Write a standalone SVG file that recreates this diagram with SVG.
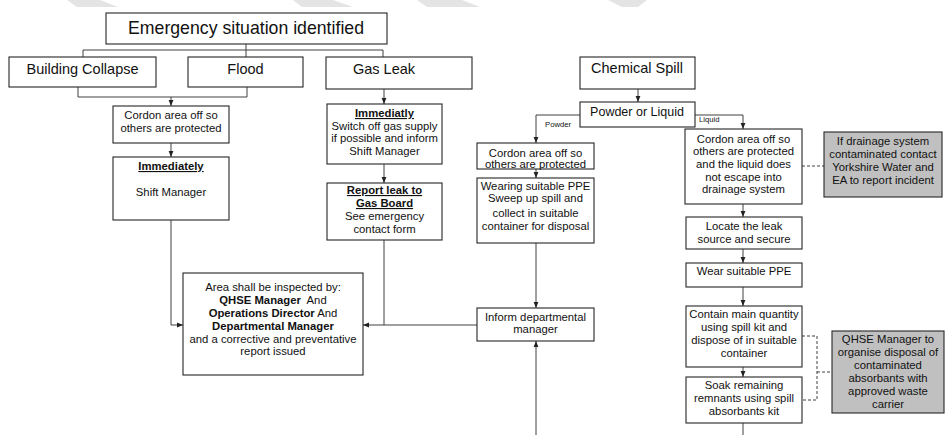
<svg xmlns="http://www.w3.org/2000/svg" width="945" height="435" viewBox="0 0 945 435">
<style>
.bx{fill:#fff;stroke:#262626;stroke-width:1.1}
.gb{fill:#c0c0c0;stroke:#262626;stroke-width:1.1}
.t{font-family:"Liberation Sans",Arial,sans-serif;font-size:11.3px;fill:#111;text-anchor:middle}
.big{font-size:14.5px}
.ttl{font-size:17.7px}
.sm{font-size:7.7px;text-anchor:start}
.b{font-weight:bold}
.u{text-decoration:underline}
.c{fill:none;stroke:#404040;stroke-width:1}
.a{fill:none;stroke:#404040;stroke-width:1;marker-end:url(#ah)}
.d{fill:none;stroke:#404040;stroke-width:1;stroke-dasharray:3,2}
.wm{fill:#e4e4e4}
</style>
<defs>
<marker id="ah" viewBox="0 0 6 6" refX="6" refY="3" markerWidth="6" markerHeight="6" markerUnits="userSpaceOnUse" orient="auto">
<path d="M0,0.6 L6,3 L0,5.4 Z" fill="#222"/>
</marker>
</defs>
<rect width="945" height="435" fill="#fff"/>
<g id="watermark">
<polygon class="wm" points="67,0 100,0 118,7 77,7"/>
<polygon class="wm" points="293,0 333,0 353,7 302,7"/>
<polygon class="wm" points="417,0 462,0 480,7 427,7"/>
<polygon class="wm" points="608,0 647,0 638,7 622,7"/>
</g>
<g id="connectors">
<path class="c" d="M246,44 V57"/>
<path class="c" d="M83,57 V50 H383 V57"/>
<path class="c" d="M78,87 V97 H247 V87"/>
<path class="a" d="M171,97 V106"/>
<path class="a" d="M171,143 V157"/>
<path class="a" d="M171,220 V325 H183"/>
<path class="a" d="M384,89 V104"/>
<path class="a" d="M384,164 V183"/>
<path class="c" d="M384,240 V325"/>
<path class="a" d="M477,325 H363"/>
<path class="a" d="M638,89 V102"/>
<path class="a" d="M580,115 H536 V143"/>
<path class="a" d="M695,115 H743 V129"/>
<path class="a" d="M536,169 V178"/>
<path class="a" d="M536,243 V308"/>
<path class="a" d="M536,435 V341"/>
<path class="a" d="M743,204 V217"/>
<path class="a" d="M743,249 V263"/>
<path class="a" d="M743,287 V306"/>
<path class="a" d="M743,367 V377"/>
<path class="c" d="M743,423 V435"/>
<path class="d" d="M802,166 H824"/>
<path class="d" d="M802,336 H817 V400 H802"/>
<path class="d" d="M817,372 H832"/>
<text class="t sm" x="545" y="127">Powder</text>
<text class="t sm" x="699" y="122">Liquid</text>
</g>
<g id="n-title">
<rect class="bx" x="106" y="13" width="281" height="31"/>
<text class="t ttl" x="246" y="34">Emergency situation identified</text>
</g>
<g id="n-building">
<rect class="bx" x="9" y="57" width="147" height="30"/>
<text class="t big" x="82.5" y="74">Building Collapse</text>
</g>
<g id="n-flood">
<rect class="bx" x="188" y="57" width="115" height="30"/>
<text class="t big" x="245.5" y="74">Flood</text>
</g>
<g id="n-gas">
<rect class="bx" x="326" y="57" width="146" height="32"/>
<text class="t big" x="384" y="74">Gas Leak</text>
</g>
<g id="n-cordon1">
<rect class="bx" x="113" y="106" width="116" height="37"/>
<text class="t" x="171" y="119">Cordon area off so</text>
<text class="t" x="171" y="132">others are protected</text>
</g>
<g id="n-immediately">
<rect class="bx" x="113" y="157" width="116" height="63"/>
<text class="t b u" x="171" y="170">Immediately</text>
<text class="t" x="171" y="196">Shift Manager</text>
</g>
<g id="n-gas-immediatly">
<rect class="bx" x="327" y="104" width="115" height="60"/>
<text class="t b u" x="384.5" y="117">Immediatly</text>
<text class="t" x="384.5" y="129.5">Switch off gas supply</text>
<text class="t" x="384.5" y="142">if possible and inform</text>
<text class="t" x="384.5" y="154.5">Shift Manager</text>
</g>
<g id="n-report">
<rect class="bx" x="327" y="183" width="115" height="57"/>
<text class="t b u" x="384.5" y="194">Report leak to</text>
<text class="t b u" x="384.5" y="207">Gas Board</text>
<text class="t" x="384.5" y="220">See emergency</text>
<text class="t" x="384.5" y="233">contact form</text>
</g>
<g id="n-area">
<rect class="bx" x="183" y="273" width="180" height="102"/>
<text class="t" x="273" y="291">Area shall be inspected by:</text>
<text class="t" x="273" y="304" xml:space="preserve"><tspan class="b">QHSE Manager</tspan>  And</text>
<text class="t" x="273" y="316.5"><tspan class="b">Operations Director</tspan> And</text>
<text class="t b" x="273" y="329.5">Departmental Manager</text>
<text class="t" x="273" y="342.5">and a corrective and preventative</text>
<text class="t" x="273" y="355">report issued</text>
</g>
<g id="n-chemical">
<rect class="bx" x="580" y="57" width="115" height="32"/>
<text class="t big" x="637" y="73">Chemical Spill</text>
</g>
<g id="n-powder-liquid">
<rect class="bx" x="580" y="102" width="115" height="25"/>
<text class="t" x="637" y="116" style="font-size:12.5px">Powder or Liquid</text>
</g>
<g id="n-cordon-powder">
<rect class="bx" x="477" y="143" width="117" height="26"/>
<text class="t" x="535.5" y="157">Cordon area off so</text>
<text class="t" x="535.5" y="168">others are protected</text>
</g>
<g id="n-wearing">
<rect class="bx" x="477" y="178" width="117" height="65"/>
<text class="t" x="535.5" y="190">Wearing suitable PPE</text>
<text class="t" x="535.5" y="202">Sweep up spill and</text>
<text class="t" x="535.5" y="217">collect in suitable</text>
<text class="t" x="535.5" y="229.5">container for disposal</text>
</g>
<g id="n-inform">
<rect class="bx" x="477" y="308" width="117" height="33"/>
<text class="t" x="535.5" y="321">Inform departmental</text>
<text class="t" x="535.5" y="333">manager</text>
</g>
<g id="n-cordon-liquid">
<rect class="bx" x="685" y="129" width="117" height="75"/>
<text class="t" x="743.5" y="142.5">Cordon area off so</text>
<text class="t" x="743.5" y="155.2">others are protected</text>
<text class="t" x="743.5" y="167.9">and the liquid does</text>
<text class="t" x="743.5" y="180.6">not escape into</text>
<text class="t" x="743.5" y="193.3">drainage system</text>
</g>
<g id="n-drainage">
<rect class="gb" x="824" y="132" width="118" height="65"/>
<text class="t" x="883" y="145">If drainage system</text>
<text class="t" x="883" y="158">contaminated contact</text>
<text class="t" x="883" y="171">Yorkshire Water and</text>
<text class="t" x="883" y="184">EA to report incident</text>
</g>
<g id="n-locate">
<rect class="bx" x="686" y="217" width="116" height="32"/>
<text class="t" x="744" y="229.5">Locate the leak</text>
<text class="t" x="744" y="242.5">source and secure</text>
</g>
<g id="n-wear">
<rect class="bx" x="686" y="263" width="116" height="24"/>
<text class="t" x="744" y="275">Wear suitable PPE</text>
</g>
<g id="n-contain">
<rect class="bx" x="686" y="306" width="116" height="61"/>
<text class="t" x="744" y="318">Contain main quantity</text>
<text class="t" x="744" y="331">using spill kit and</text>
<text class="t" x="744" y="344">dispose of in suitable</text>
<text class="t" x="744" y="357">container</text>
</g>
<g id="n-soak">
<rect class="bx" x="686" y="377" width="116" height="46"/>
<text class="t" x="744" y="388.5">Soak remaining</text>
<text class="t" x="744" y="402">remnants using spill</text>
<text class="t" x="744" y="415">absorbants kit</text>
</g>
<g id="n-qhse-disposal">
<rect class="gb" x="832" y="331" width="112" height="82"/>
<text class="t" x="888" y="343">QHSE Manager to</text>
<text class="t" x="888" y="356">organise disposal of</text>
<text class="t" x="888" y="369">contaminated</text>
<text class="t" x="888" y="382">absorbants with</text>
<text class="t" x="888" y="395">approved waste</text>
<text class="t" x="888" y="408">carrier</text>
</g>
</svg>
